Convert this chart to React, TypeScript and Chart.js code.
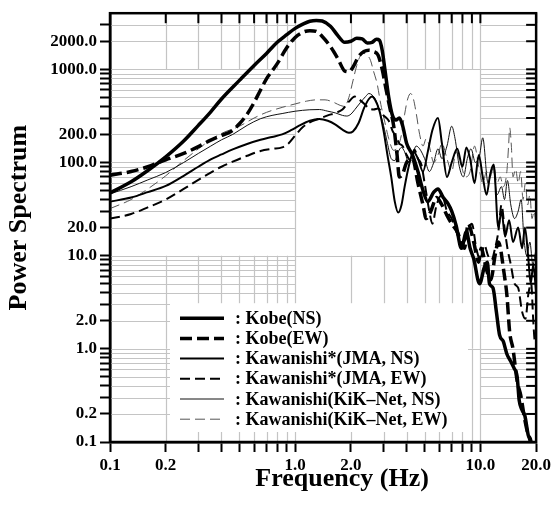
import React, { useEffect, useRef } from 'react';
import { Chart, registerables } from 'chart.js';

Chart.register(...registerables);

// ---------- axis ticks ----------
const xTickValues = [0.1, 0.2, 0.3, 0.4, 0.5, 0.6, 0.7, 0.8, 0.9, 1, 2, 3, 4, 5, 6, 7, 8, 9, 10, 20];
const xTickLabels = ['0.1', '0.2', '1.0', '2.0', '10.0', '20.0'];
const yTickValues = [
  0.1, 0.2, 0.3, 0.4, 0.5, 0.6, 0.7, 0.8, 0.9,
  1, 2, 3, 4, 5, 6, 7, 8, 9,
  10, 20, 30, 40, 50, 60, 70, 80, 90,
  100, 200, 300, 400, 500, 600, 700, 800, 900,
  1000, 2000, 3000,
];
const yTickLabels = ['0.1', '0.2', '1.0', '2.0', '10.0', '20.0', '100.0', '200.0', '1000.0', '2000.0'];

// ---------- series ----------
const kobeNsFreq = [0.1, 0.13, 0.16, 0.2, 0.25, 0.3, 0.35, 0.4, 0.5, 0.6, 0.7, 0.8, 0.9, 1.0, 1.1, 1.2, 1.3, 1.4, 1.55, 1.7, 1.85, 2.0, 2.15, 2.3, 2.45, 2.6, 2.75, 2.85, 2.95, 3.05, 3.2, 3.35, 3.5, 3.65, 3.8, 4.0, 4.3, 4.6, 4.9, 5.2, 5.6, 5.9, 6.3, 6.7, 7.0, 7.4, 7.9, 8.4, 8.8, 9.2, 9.9, 10.5, 10.9, 11.2, 11.7, 12.2, 12.7, 13.3, 13.9, 14.5, 15.2, 15.8, 16.2, 16.8, 17.4, 18.1, 18.6, 19.2];
const kobeNsPower = [47, 62, 82, 115, 170, 250, 350, 480, 760, 1100, 1480, 1950, 2350, 2750, 3050, 3280, 3350, 3300, 2900, 2300, 1950, 2000, 2150, 2120, 1920, 1950, 2100, 2050, 1600, 1000, 500, 320, 285, 300, 250, 160, 120, 80, 50, 38, 48, 52, 42, 36, 30, 21, 12, 18, 12, 9.3, 5, 7.5, 8.5, 5, 4.5, 2.5, 1.4, 1.2, 0.88, 0.75, 0.62, 0.5, 0.28, 0.22, 0.19, 0.12, 0.1, 0.05];

const kobeEwFreq = [0.1, 0.13, 0.16, 0.2, 0.25, 0.3, 0.35, 0.4, 0.45, 0.5, 0.55, 0.6, 0.65, 0.7, 0.75, 0.8, 0.9, 1.0, 1.1, 1.2, 1.3, 1.4, 1.55, 1.7, 1.85, 1.95, 2.05, 2.2, 2.35, 2.5, 2.65, 2.8, 2.95, 3.1, 3.25, 3.4, 3.55, 3.65, 3.8, 4.0, 4.3, 4.6, 4.9, 5.1, 5.4, 5.8, 6.2, 6.6, 7.0, 7.5, 8.2, 8.6, 9.2, 9.8, 10.1, 10.8, 11.4, 12.0, 12.5, 13.5, 13.9, 14.4, 15.0, 15.8, 16.5, 17.4, 18.1, 18.8, 19.5];
const kobeEwPower = [73, 80, 90, 107, 125, 148, 174, 195, 215, 260, 330, 440, 600, 790, 960, 1150, 1700, 2200, 2500, 2600, 2550, 2250, 1750, 1300, 960, 940, 1050, 1370, 1550, 1600, 1550, 1420, 1000, 600, 380, 250, 120, 70, 75, 100, 110, 60, 35, 25, 30, 42, 35, 27, 22, 18, 12, 22, 14, 8.5, 12, 7, 5.5, 10, 14, 6, 3.8, 1.5, 1.0, 0.45, 0.32, 0.17, 0.12, 0.1, 0.05];

const jmaNsFreq = [0.1, 0.13, 0.16, 0.2, 0.25, 0.3, 0.35, 0.4, 0.46, 0.55, 0.65, 0.75, 0.85, 0.95, 1.05, 1.2, 1.35, 1.5, 1.65, 1.8, 1.95, 2.05, 2.2, 2.35, 2.5, 2.6, 2.7, 2.85, 3.0, 3.15, 3.3, 3.45, 3.6, 3.75, 3.9, 4.1, 4.35, 4.6, 4.9, 5.2, 5.5, 5.9, 6.2, 6.6, 7.0, 7.5, 8.0, 8.4, 8.8, 9.3, 9.8, 10.3, 10.8, 11.3, 11.8, 12.5, 13.0, 13.6, 14.3, 15.0, 16.0, 16.8, 17.4, 18.1, 18.7, 19.3, 20];
const jmaNsPower = [38, 42, 48, 56, 72, 90, 108, 122, 138, 158, 175, 188, 200, 222, 248, 280, 292, 280, 255, 225, 208, 215, 265, 380, 480, 510, 470, 360, 220, 120, 70, 38, 29, 35, 55, 90, 130, 110, 80, 130, 220, 300, 160, 70, 100, 140, 90, 145, 110, 60, 120, 70, 45, 75, 95, 20, 30, 16, 24, 14, 20, 12, 20, 10, 5, 8, 4];

const jmaEwFreq = [0.1, 0.13, 0.16, 0.2, 0.25, 0.3, 0.35, 0.4, 0.46, 0.55, 0.65, 0.75, 0.85, 0.92, 1.0, 1.1, 1.2, 1.35, 1.5, 1.65, 1.8, 1.95, 2.1, 2.2, 2.35, 2.5, 2.65, 2.8, 3.0, 3.2, 3.35, 3.5, 3.65, 3.8, 4.0, 4.2, 4.4, 4.6, 4.8, 5.0, 5.3, 5.5, 5.8, 6.2, 6.6, 7.0, 7.5, 8.0, 8.5, 9.0, 9.5, 10.0, 10.5, 11.0, 11.5, 12.0, 12.5, 13.0, 13.5, 14.0, 14.6, 15.3, 16.0, 16.8, 17.5, 18.2, 18.8, 19.3, 19.7, 20];
const jmaEwPower = [25, 28, 33, 40, 52, 65, 78, 90, 102, 118, 133, 140, 145, 160, 195, 240, 270, 295, 320, 340, 370, 450, 510, 480, 430, 380, 370, 380, 320, 280, 220, 190, 160, 150, 120, 105, 138, 110, 95, 60, 30, 22, 35, 45, 30, 25, 17, 12, 18, 22, 12, 9, 13, 10, 9, 12, 18, 35, 20, 12, 8, 5, 4.5, 2.5, 2.1, 4, 5, 2, 1.2, 1.5];

const kikNsFreq = [0.1, 0.13, 0.16, 0.2, 0.25, 0.3, 0.35, 0.4, 0.46, 0.55, 0.65, 0.75, 0.85, 1.0, 1.2, 1.35, 1.5, 1.65, 1.8, 1.9, 2.0, 2.1, 2.25, 2.4, 2.5, 2.6, 2.72, 2.85, 3.0, 3.15, 3.3, 3.45, 3.6, 3.75, 3.9, 4.1, 4.3, 4.5, 4.7, 5.0, 5.3, 5.6, 5.9, 6.2, 6.6, 7.0, 7.3, 7.7, 8.1, 8.5, 8.9, 9.4, 9.9, 10.3, 11.0, 11.7, 12.3, 13.0, 13.5, 14.0, 14.6, 15.3, 16.0, 16.6, 17.2, 17.8, 18.5, 19.2, 20];
const kikNsPower = [46, 55, 65, 78, 100, 125, 150, 175, 200, 250, 295, 320, 335, 355, 368, 370, 355, 340, 320, 315, 330, 370, 440, 510, 550, 530, 470, 360, 250, 160, 110, 105, 130, 145, 130, 100, 120, 150, 140, 110, 80, 100, 140, 110, 150, 245, 180, 90, 70, 110, 140, 100, 120, 184, 60, 92, 45, 55, 40, 64, 35, 25, 30, 40, 15, 10, 14, 8, 12];

const kikEwFreq = [0.1, 0.13, 0.16, 0.2, 0.25, 0.3, 0.35, 0.4, 0.5, 0.6, 0.7, 0.85, 1.0, 1.15, 1.3, 1.45, 1.6, 1.75, 1.85, 1.95, 2.05, 2.15, 2.25, 2.35, 2.45, 2.55, 2.65, 2.77, 2.9, 3.05, 3.2, 3.4, 3.6, 3.75, 3.9, 4.05, 4.2, 4.35, 4.5, 4.7, 4.9, 5.1, 5.3, 5.6, 5.9, 6.2, 6.6, 7.0, 7.4, 7.8, 8.3, 8.8, 9.3, 9.8, 10.3, 10.8, 11.3, 11.8, 12.3, 12.8, 13.3, 13.9, 14.2, 14.4, 14.7, 15.0, 15.5, 16.0, 16.5, 17.0, 17.5, 18.0, 18.5, 19.0, 19.5, 20];
const kikEwPower = [32, 40, 52, 72, 105, 140, 175, 205, 245, 300, 345, 390, 425, 455, 470, 470, 445, 410, 400, 500, 750, 1100, 1400, 1480, 1420, 1250, 950, 700, 420, 270, 180, 135, 150, 200, 330, 480, 550, 480, 340, 200, 150, 180, 150, 100, 120, 160, 110, 80, 130, 100, 70, 80, 150, 90, 60, 80, 70, 90, 60, 70, 55, 80, 150, 235, 150, 70, 85, 60, 80, 40, 60, 35, 45, 25, 30, 20];

const seriesLabels = [
  'Kobe(NS)',
  'Kobe(EW)',
  'Kawanishi*(JMA, NS)',
  'Kawanishi*(JMA, EW)',
  'Kawanishi(KiK–Net, NS)',
  'Kawanishi(KiK–Net, EW)',
];

const SERIF = '"Liberation Serif", "Times New Roman", serif';

const toPoints = (f: number[], v: number[]) => f.map((x, i) => ({ x, y: v[i] }));

const blockGridPlugin = {
  id: 'blockGrid',
  beforeDatasetsDraw(chart: any) {
    const { ctx, chartArea: ca, scales } = chart;
    const xs = scales.x;
    const ys = scales.y;
    const xBlocks = [[0.1, 1], [1, 10], [10, 20]];
    const yBlocks = [[0.1, 1], [1, 10], [10, 100], [100, 1000], [1000, 4000]];
    const hMask = [
      [1, 1, 1, 1, 1],
      [0, 0, 0, 0, 0],
      [1, 1, 1, 1, 1],
    ];
    const vMask = [
      [1, 1, 0, 0, 1],
      [1, 1, 0, 0, 1],
      [0, 0, 0, 0, 0],
    ];
    ctx.save();
    ctx.beginPath();
    ctx.rect(ca.left, ca.top, ca.right - ca.left, ca.bottom - ca.top);
    ctx.clip();
    ctx.strokeStyle = '#c4c4c4';
    ctx.lineWidth = 1.2;
    const line = (x1: number, y1: number, x2: number, y2: number) => {
      ctx.beginPath();
      ctx.moveTo(x1, y1);
      ctx.lineTo(x2, y2);
      ctx.stroke();
    };
    xBlocks.forEach(([xl, xh], xi) => {
      yBlocks.forEach(([yl, yh], yi) => {
        if (hMask[xi][yi]) {
          for (let m = 2; m <= 9; m++) {
            const v = m * yl;
            if (v >= yh * 0.999) break;
            const py = Math.round(ys.getPixelForValue(v)) + 0.5;
            line(xs.getPixelForValue(xl), py, xs.getPixelForValue(xh), py);
          }
        }
        if (vMask[xi][yi]) {
          for (let m = 2; m <= 9; m++) {
            const f = m * xl;
            if (f >= xh * 0.999) break;
            const px = Math.round(xs.getPixelForValue(f)) + 0.5;
            line(px, ys.getPixelForValue(yl), px, ys.getPixelForValue(yh));
          }
        }
      });
    });
    [1, 10].forEach((f) => {
      const px = Math.round(xs.getPixelForValue(f)) + 0.5;
      line(px, ca.top, px, ca.bottom);
    });
    [1, 10, 100, 1000].forEach((v) => {
      const py = Math.round(ys.getPixelForValue(v)) + 0.5;
      line(ca.left, py, ca.right, py);
    });
    ctx.restore();
  },
};

const framePlugin = {
  id: 'frameAndLegend',
  afterDraw(chart: any) {
    const { ctx, chartArea: ca, scales } = chart;
    const xs = scales.x;
    const ys = scales.y;
    ctx.save();
    ctx.strokeStyle = '#000';
    ctx.lineWidth = 2;
    xTickValues.forEach((f) => {
      const px = xs.getPixelForValue(f);
      ctx.beginPath();
      ctx.moveTo(px, ca.top);
      ctx.lineTo(px, ca.top + 10);
      ctx.stroke();
    });
    yTickValues.forEach((v) => {
      const py = ys.getPixelForValue(v);
      ctx.beginPath();
      ctx.moveTo(ca.right, py);
      ctx.lineTo(ca.right - 10, py);
      ctx.stroke();
    });
    ctx.lineWidth = 2.5;
    ctx.strokeRect(ca.left, ca.top, ca.right - ca.left, ca.bottom - ca.top);

    // legend
    const lx = ca.left + 60;
    const ly = ca.top + 290;
    ctx.fillStyle = '#fff';
    ctx.fillRect(lx, ly, 298, ca.bottom - 10 - ly);
    const ds = chart.data.datasets;
    ctx.font = `bold 18px ${SERIF}`;
    ctx.textBaseline = 'middle';
    ctx.textAlign = 'left';
    ds.forEach((d: any, i: number) => {
      const yy = ly + 15 + i * 20.2;
      ctx.strokeStyle = d.borderColor;
      ctx.lineWidth = d.borderWidth;
      ctx.setLineDash(d.borderDash || []);
      ctx.beginPath();
      ctx.moveTo(lx + 10, yy);
      ctx.lineTo(lx + 54, yy);
      ctx.stroke();
      ctx.setLineDash([]);
      ctx.fillStyle = '#000';
      ctx.fillText(': ' + d.label, lx + 65, yy + 1);
    });

    // axis titles
    ctx.fillStyle = '#000';
    ctx.font = `bold 26px ${SERIF}`;
    ctx.textAlign = 'center';
    ctx.textBaseline = 'alphabetic';
    ctx.fillText('Frequency (Hz)', (ca.left + ca.right) / 2 + 19, ca.bottom + 44);
    ctx.translate(26, (ca.top + ca.bottom) / 2 - 10);
    ctx.rotate(-Math.PI / 2);
    ctx.fillText('Power Spectrum', 0, 0);
    ctx.restore();
  },
};

export default function App() {
  const ref = useRef<HTMLCanvasElement>(null);
  useEffect(() => {
    if (!ref.current) return;
    const tickFont = { family: SERIF, size: 17, weight: 'bold' as const };
    const chart = new Chart(ref.current, {
      type: 'line',
      data: {
        datasets: [
          { label: seriesLabels[0], data: toPoints(kobeNsFreq, kobeNsPower), borderColor: '#000', borderWidth: 3.5 },
          { label: seriesLabels[1], data: toPoints(kobeEwFreq, kobeEwPower), borderColor: '#000', borderWidth: 3.5, borderDash: [12, 5] },
          { label: seriesLabels[2], data: toPoints(jmaNsFreq, jmaNsPower), borderColor: '#000', borderWidth: 2 },
          { label: seriesLabels[3], data: toPoints(jmaEwFreq, jmaEwPower), borderColor: '#000', borderWidth: 2, borderDash: [10, 5] },
          { label: seriesLabels[4], data: toPoints(kikNsFreq, kikNsPower), borderColor: '#111', borderWidth: 1 },
          { label: seriesLabels[5], data: toPoints(kikEwFreq, kikEwPower), borderColor: '#555', borderWidth: 1, borderDash: [10, 5] },
        ] as any,
      },
      options: {
        responsive: false,
        animation: false,
        devicePixelRatio: 1,
        layout: { padding: { top: 10, right: 16, left: 0, bottom: 0 } },
        elements: {
          point: { radius: 0, hoverRadius: 0 },
          line: { cubicInterpolationMode: 'monotone', fill: false },
        },
        plugins: {
          legend: { display: false },
          tooltip: { enabled: false },
        },
        scales: {
          x: {
            type: 'logarithmic',
            min: 0.1,
            max: 20,
            afterBuildTicks: (s: any) => {
              s.ticks = xTickValues.map((v) => ({ value: v }));
            },
            afterFit: (s: any) => {
              s.height = 66;
            },
            ticks: {
              autoSkip: false,
              maxRotation: 0,
              padding: 3,
              color: '#000',
              font: tickFont,
              callback: (v: any) => {
                const t = Number(v).toFixed(1);
                return xTickLabels.includes(t) ? t : '';
              },
            },
            grid: { drawOnChartArea: false, drawTicks: true, tickLength: 10, tickWidth: 2, tickColor: '#000' },
            border: { display: true, color: '#000', width: 2.5 },
          },
          y: {
            type: 'logarithmic',
            min: 0.1,
            max: 4000,
            afterBuildTicks: (s: any) => {
              s.ticks = yTickValues.map((v) => ({ value: v }));
            },
            afterFit: (s: any) => {
              s.width = 110;
            },
            ticks: {
              autoSkip: false,
              padding: 3,
              color: '#000',
              font: tickFont,
              callback: (v: any) => {
                const t = Number(v).toFixed(1);
                return yTickLabels.includes(t) ? t : '';
              },
            },
            grid: { drawOnChartArea: false, drawTicks: true, tickLength: 10, tickWidth: 2, tickColor: '#000' },
            border: { display: true, color: '#000', width: 2.5 },
          },
        },
      } as any,
      plugins: [blockGridPlugin, framePlugin],
    });
    return () => chart.destroy();
  }, []);
  return (
    <div style={{ position: 'absolute', left: 0, top: 0, width: 554, height: 508, background: '#fff' }}>
      <canvas ref={ref} width={554} height={508} style={{ display: 'block', width: 554, height: 508 }} />
    </div>
  );
}
